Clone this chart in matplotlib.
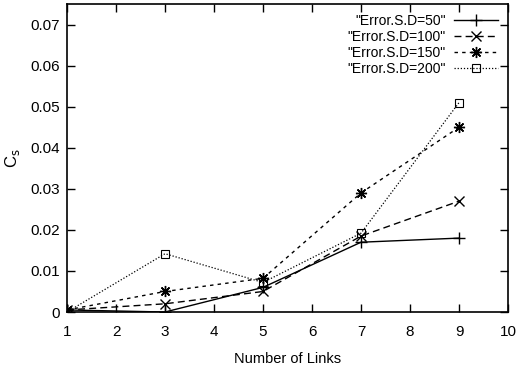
import matplotlib
matplotlib.use("Agg")
import matplotlib.pyplot as plt

plt.rcParams['font.family'] = ['Liberation Sans', 'DejaVu Sans']

links = [1, 3, 5, 7, 9]
sd50 = [0.0005, 0.0, 0.006, 0.017, 0.018]
sd100 = [0.0005, 0.002, 0.005, 0.0185, 0.027]
sd150 = [0.0005, 0.005, 0.0082, 0.029, 0.045]
sd200 = [0.0, 0.0142, 0.0072, 0.0192, 0.051]
labels = ['"Error.S.D=50"', '"Error.S.D=100"', '"Error.S.D=150"', '"Error.S.D=200"']

fig = plt.figure(figsize=(5.17, 3.71), dpi=100)
ax = fig.add_axes([0.1296, 0.159, 0.853, 0.83])

ax.plot(links, sd50, color='black', lw=1, linestyle='-', marker='+', ms=9, mew=1, label=labels[0])
ax.plot(links, sd100, color='black', lw=1, linestyle=(0, (5, 3)), marker='x', ms=7, mew=1, label=labels[1])
ax.plot(links, sd150, color='black', lw=1, linestyle=(0, (2.5, 3)), marker=(8, 2, 0), ms=8, mew=1, label=labels[2])
ax.plot(links, sd200, color='black', lw=0.9, linestyle=(0, (1, 1.5)), marker='s', ms=6, mew=0.8,
        mfc='none', label=labels[3])

ax.set_xlim(1, 10)
ax.set_ylim(0, 0.075)
ax.set_xticks(range(1, 11))
ax.set_yticks([0, 0.01, 0.02, 0.03, 0.04, 0.05, 0.06, 0.07])
ax.set_yticklabels(['0', '0.01', '0.02', '0.03', '0.04', '0.05', '0.06', '0.07'])
ax.tick_params(direction='in', top=True, right=True, length=6, width=1, labelsize=11, pad=5)
ax.tick_params(axis='x', pad=9)
for s in ax.spines.values():
    s.set_linewidth(1.2)

ax.set_xlabel('Number of Links', fontsize=10.5, labelpad=10)
ax.set_ylabel('C$_\\mathrm{s}$', fontsize=12, labelpad=6)

leg = ax.legend(loc='upper right', frameon=False, markerfirst=False, fontsize=10,
                handlelength=3.2, handletextpad=0.6, labelspacing=0.15,
                borderaxespad=0.3)
for t in leg.get_texts():
    t.set_ha('right')

fig.savefig('out.png', dpi=100)
